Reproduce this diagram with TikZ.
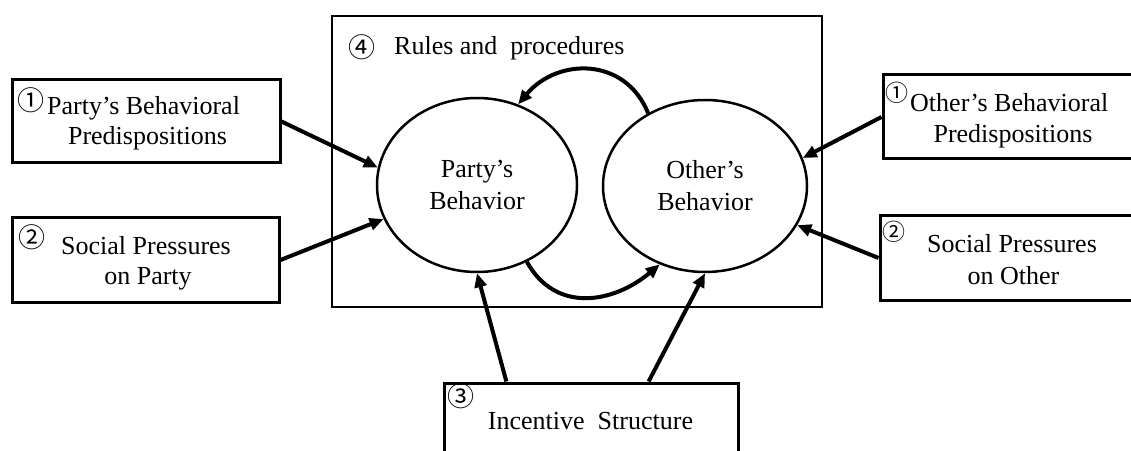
\documentclass[tikz,border=0pt]{standalone}
\usepackage{fontspec}
\setmainfont{Liberation Serif}
\newfontfamily\circfont{Noto Sans CJK JP}
\usetikzlibrary{arrows.meta,shapes.geometric}

\tikzset{
  txt/.style={font=\fontsize{26}{30}\selectfont, inner sep=0pt},
  num/.style={font=\circfont\fontsize{27}{27}\selectfont, inner sep=0pt},
  factor/.style={draw, line width=3pt, inner sep=0pt},
  agent/.style={ellipse, draw, line width=2.5pt, inner sep=0pt, align=center,
                font=\fontsize{26}{32}\selectfont},
  link/.style={line width=4pt, -{Triangle[length=14pt,width=12pt]}},
}

\begin{document}
\begin{tikzpicture}[x=1pt,y=1pt]
\path[use as bounding box] (0,0) rectangle (1131,450);
\clip (0,0) rectangle (1131,450);

% frame for rules and procedures
\node[draw, line width=1.5pt, inner sep=0pt, minimum width=490, minimum height=291] (rules) at (577,288.5) {};
\node[num] (n4) at (361.5,402.5) {④};
\node[txt, anchor=base west] (rulestxt) at (394,395) {Rules and\ \ procedures};

% the two behaviours
\node[agent, minimum width=200, minimum height=174] (party) at (477,265) {Party’s\\Behavior};
\node[agent, minimum width=204, minimum height=172] (other) at (705,264) {Other’s\\Behavior};

% factor boxes
\node[factor, minimum width=268, minimum height=83] (pbd) at (146,328.5) {};
\node[num] (n1a) at (31,349.5) {①};
\node[txt, anchor=base west] (pbd1) at (47,335) {Party’s Behavioral};
\node[txt, anchor=base] (pbd2) at (147.5,305) {Predispositions};

\node[factor, minimum width=267, minimum height=84] (psp) at (145.5,190) {};
\node[num] (n2a) at (31.5,212.5) {②};
\node[txt, anchor=base] (psp1) at (146,195) {Social Pressures};
\node[txt, anchor=base] (psp2) at (148,165) {on Party};

\node[factor, minimum width=257, minimum height=84] (obd) at (1011.5,333) {};
\node[num, scale=0.85] (n1b) at (897,357.5) {①};
\node[txt, anchor=base west] (obd1) at (910,338) {Other’s Behavioral};
\node[txt, anchor=base] (obd2) at (1013,307) {Predispositions};

\node[factor, minimum width=260, minimum height=84] (osp) at (1010,192) {};
\node[num, scale=0.85] (n2b) at (894,218) {②};
\node[txt, anchor=base] (osp1) at (1012,197) {Social Pressures};
\node[txt, anchor=base] (osp2) at (1013.5,166) {on Other};

\node[factor, minimum width=294, minimum height=87] (inc) at (591,23.5) {};
\node[num] (n3) at (460.5,53.5) {③};
\node[txt, anchor=base] (inctxt) at (590.5,21) {Incentive\ \ Structure};

% influences
\draw[link] (pbd.east) -- (party.170);
\draw[link] (psp.east) -- (party.200);
\draw[link] (obd.west) -- (other.16);
\draw[link] (osp.west) -- (other.337);
\draw[link] (inc.152.6) -- (party.270);
\draw[link] (inc.38.9) -- (other.270);

% interaction between the parties
\draw[link] (other.128) to[out=112,in=50,looseness=1.2] (party.63);
\draw[link] (party.303) to[out=-61,in=220,looseness=1.15] (other.240);
\end{tikzpicture}
\end{document}
